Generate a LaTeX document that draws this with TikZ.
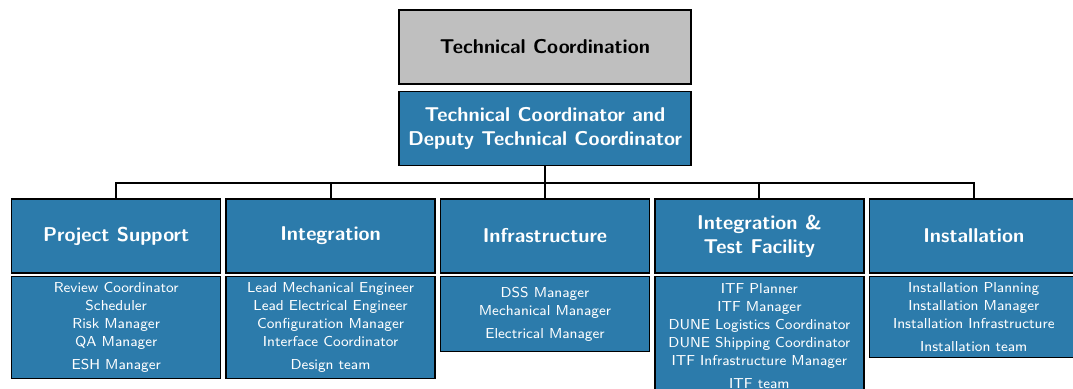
\documentclass[tikz,border=0pt]{standalone}
\usepackage{tikz}
\usetikzlibrary{positioning}
\definecolor{tcblue}{RGB}{44,123,171}
\definecolor{tcgray}{RGB}{191,191,191}

\begin{document}
\begin{tikzpicture}[
  x=0.5pt, y=-0.5pt, font=\sffamily, line width=0.7pt,
  title/.style = {draw, fill=tcgray, font=\sffamily\bfseries, align=center, minimum width=146pt, minimum height=37pt},
  head/.style  = {draw, fill=tcblue, text=white, font=\sffamily\bfseries, align=center, minimum width=104.5pt, minimum height=37pt, inner sep=2pt},
  duty/.style  = {draw, fill=tcblue, text=white, font=\sffamily\fontsize{7.2}{9}\selectfont, align=center, minimum width=104.5pt, inner sep=2pt},
  wire/.style  = {line width=1pt},
]
  \useasboundingbox (0,0) rectangle (1073,389);

  \node[title]                          (top)   at (545,47) {Technical Coordination};
  \node[head, minimum width=146pt, below=3pt of top] (tc) {Technical Coordinator and\\Deputy Technical Coordinator};

  % groups
  \node[head]                           (infra) at (545,236) {Infrastructure};
  \node[head, left=2pt of infra]        (integ) {Integration};
  \node[head, left=2pt of integ]        (ps)    {Project Support};
  \node[head, right=2pt of infra]       (itf)   {Integration \&\\Test Facility};
  \node[head, right=2pt of itf]         (inst)  {Installation};

  % duties
  \node[duty, minimum height=51pt, below=1pt of ps]      (psl)
    {Review Coordinator\\Scheduler\\Risk Manager\\QA Manager\\[2.5pt]ESH Manager};
  \node[duty, minimum height=51pt, below=1pt of integ]   (integl)
    {Lead Mechanical Engineer\\Lead Electrical Engineer\\Configuration Manager\\Interface Coordinator\\[2.5pt]Design team};
  \node[duty, minimum height=37.5pt, below=1pt of infra] (infral)
    {DSS Manager\\Mechanical Manager\\[2.5pt]Electrical Manager};
  \node[duty, minimum height=60pt, below=1pt of itf]     (itfl)
    {ITF Planner\\ITF Manager\\DUNE Logistics Coordinator\\DUNE Shipping Coordinator\\ITF Infrastructure Manager\\[2.5pt]ITF team};
  \node[duty, minimum height=40.5pt, below=1pt of inst]  (instl)
    {Installation Planning\\Installation Manager\\Installation Infrastructure\\[2.5pt]Installation team};

  % tree lines
  \coordinate (bus) at (545,183);
  \draw[wire] (tc.south) -- (bus);
  \draw[wire] (bus) -| (ps.north);
  \draw[wire] (bus) -| (integ.north);
  \draw[wire] (bus) -- (infra.north);
  \draw[wire] (bus) -| (itf.north);
  \draw[wire] (bus) -| (inst.north);
\end{tikzpicture}
\end{document}
